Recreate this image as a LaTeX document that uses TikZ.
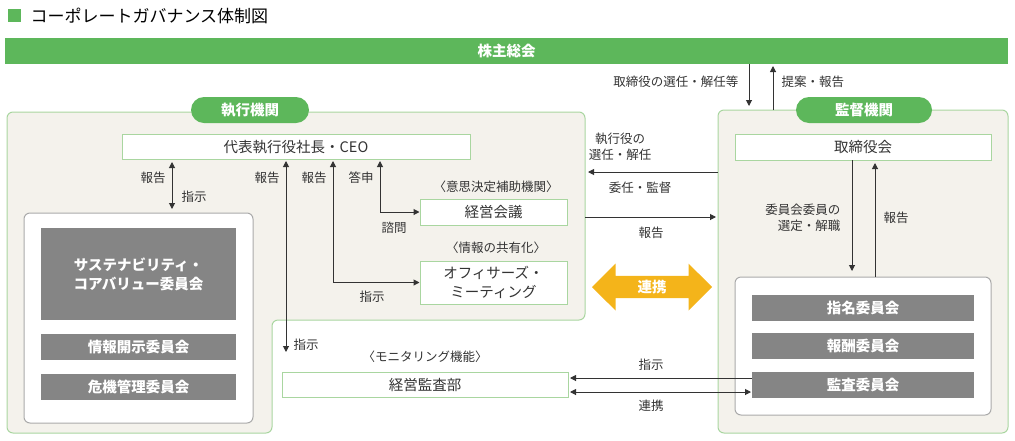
\documentclass[tikz,border=0pt]{standalone}
\usepackage{fontspec}
\setmainfont{Noto Sans CJK JP}
\usetikzlibrary{arrows.meta,shapes.arrows}
\definecolor{gr}{HTML}{5DB75B}
\definecolor{lgr}{HTML}{A9D6A0}
\definecolor{bg}{HTML}{F4F2EC}
\definecolor{gy}{HTML}{858585}
\definecolor{yl}{HTML}{F4B41A}
\definecolor{tx}{HTML}{333333}
\begin{document}
\begin{tikzpicture}[x=1pt,y=-1pt,
  every node/.style={text=tx,font=\fontsize{12.5}{14}\selectfont},
  region/.style={fill=bg,draw=lgr,line width=1pt,rounded corners=6pt},
  wbox/.style={fill=white,draw=lgr,line width=1pt,inner sep=0pt,font=\fontsize{14.5}{17}\selectfont},
  gbox/.style={fill=gy,inner sep=0pt,text=white,font=\fontsize{14.5}{19}\selectfont\bfseries},
  pill/.style={fill=gr,rounded corners=13pt,inner sep=0pt,text=white,font=\fontsize{14.5}{17}\selectfont\bfseries},
  ar/.style={draw=tx,line width=1pt,-{Triangle[length=6pt,width=6pt]}},
  dar/.style={draw=tx,line width=1pt,{Triangle[length=6pt,width=6pt]}-{Triangle[length=6pt,width=6pt]}},
  lab/.style={font=\fontsize{12.5}{16}\selectfont,align=center}]
\useasboundingbox (0,0) rectangle (1015,440);
% title
\fill[gr] (8,9) rectangle (21,22);
\node[anchor=west,font=\fontsize{17}{19}\selectfont,text=black] (title) at (27,15.5) {コーポレートガバナンス体制図};
\node[fill=gr,minimum width=1003pt,minimum height=26pt,inner sep=0pt,text=white,font=\fontsize{14.5}{17}\selectfont\bfseries,anchor=north west] (gm) at (5,38) {株主総会};
% regions
\draw[region] (7,112) -- (585,112) -- (585,320) -- (272,320) -- (272,433) -- (7,433) -- cycle;
\draw[region] (718,110) rectangle (1008,433);
\node[pill,minimum width=118pt,minimum height=26pt] (exe) at (250,110) {執行機関};
\node[pill,minimum width=136pt,minimum height=26pt] (sup) at (864,110) {監督機関};
% left side
\node[wbox,minimum width=348pt,minimum height=25pt] (ceo) at (296,147) {代表執行役社長・CEO};
\draw[fill=white,draw=gy!70,line width=1pt,rounded corners=6pt] (24,213) rectangle (253,423);
\node[gbox,minimum width=195pt,minimum height=92pt,align=center] (sus) at (138.5,274) {サステナビリティ・\\コアバリュー委員会};
\node[gbox,minimum width=195pt,minimum height=26pt] (joho) at (138.5,347) {情報開示委員会};
\node[gbox,minimum width=195pt,minimum height=26pt] (kiki) at (138.5,387) {危機管理委員会};
\node[lab] at (496,187) {〈意思決定補助機関〉};
\node[wbox,minimum width=147pt,minimum height=26pt] (kei) at (493.5,212) {経営会議};
\node[lab] at (496,248) {〈情報の共有化〉};
\node[wbox,minimum width=147pt,minimum height=43pt,align=center,font=\fontsize{14.5}{19}\selectfont] (off) at (493.5,282.5) {オフィサーズ・\\ミーティング};
\node[lab] at (425,357) {〈モニタリング機能〉};
\node[wbox,minimum width=286pt,minimum height=25pt] (kan) at (425,384.5) {経営監査部};
% left arrows
\draw[dar] (172,162) -- (172,209);
\node[lab] at (153,178) {報告};
\node[lab] at (194,197) {指示};
\draw[dar] (286,161) -- (286,352);
\node[lab] at (267,178) {報告};
\node[lab] at (306,345) {指示};
\draw[ar] (333,282.5) -- (333,161);
\draw[ar] (333,282.5) -- (off.west);
\node[lab] at (314,178) {報告};
\node[lab] at (372,297) {指示};
\draw[ar] (380,212) -- (380,161);
\draw[ar] (380,212) -- (kei.west);
\node[lab] at (361,178) {答申};
\node[lab] at (394,228) {諮問};
% middle
\draw[ar] (718,172) -- (588,172);
\node[lab] at (620,147) {執行役の\\選任・解任};
\node[lab] at (640,188) {委任・監督};
\draw[ar] (585,217) -- (716,217);
\node[lab] at (651,233) {報告};
\node[double arrow,fill=yl,minimum width=47pt,double arrow head extend=8pt,minimum height=120pt,inner sep=0pt,text=white,font=\fontsize{14.5}{17}\selectfont\bfseries] (ren) at (652,287) {連携};
% top arrows
\draw[ar] (749,64) -- (749,106);
\draw[ar] (773,110) -- (773,66);
\node[lab,anchor=east] at (742,82) {取締役の選任・解任等};
\node[lab,anchor=west] at (778,82) {提案・報告};
% right side
\node[wbox,minimum width=256pt,minimum height=26pt] (tor) at (863,147) {取締役会};
\draw[fill=white,draw=gy!70,line width=1pt,rounded corners=6pt] (735,277) rectangle (991,415);
\node[gbox,minimum width=222pt,minimum height=26pt] (shi) at (863,308) {指名委員会};
\node[gbox,minimum width=222pt,minimum height=26pt] (ho) at (863,346) {報酬委員会};
\node[gbox,minimum width=222pt,minimum height=26pt] (kansa) at (863,385) {監査委員会};
\draw[ar] (852,160) -- (852,271);
\draw[ar] (875,277) -- (875,163);
\node[lab,align=right,anchor=east] at (844,218) {委員会委員の\\選定・解職};
\node[lab] at (896,218) {報告};
\draw[ar] (kansa.west |- 0,378) -- (570,378);
\draw[dar] (570,392) -- (751,392);
\node[lab] at (651,365) {指示};
\node[lab] at (651,406) {連携};
\end{tikzpicture}
\end{document}
